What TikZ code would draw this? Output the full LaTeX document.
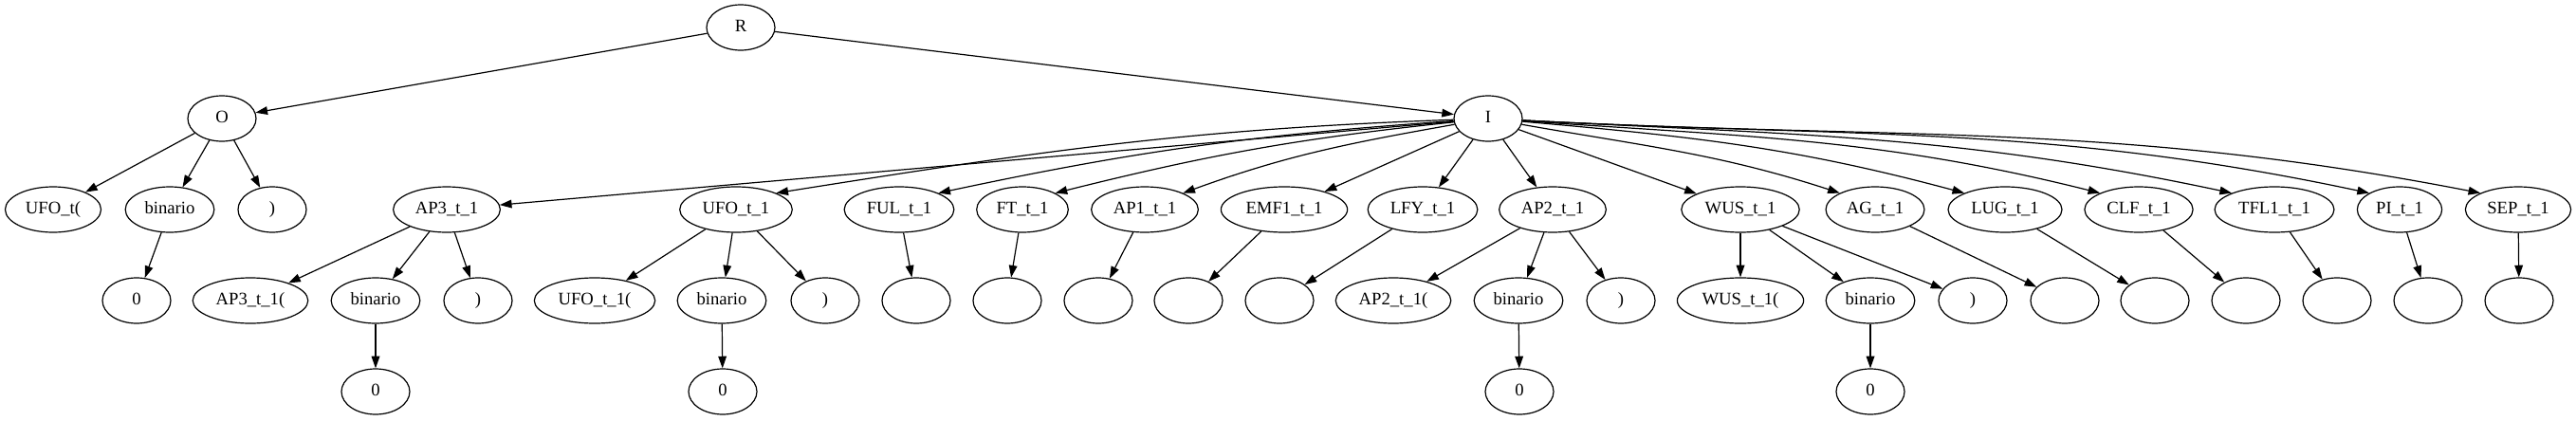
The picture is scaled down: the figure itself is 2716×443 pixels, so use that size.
\documentclass[tikz,border=0pt]{standalone}
\usepackage{fontspec}
\setmainfont{Liberation Serif}
\usetikzlibrary{arrows.meta,shapes.geometric}

\begin{document}
\begin{tikzpicture}[x=0.75pt, y=-0.75pt, >={Triangle[length=9.5pt,width=6.5pt]},
                    tn/.style={draw, ellipse, line width=0.9pt, inner xsep=5pt,
                               minimum width=54pt, minimum height=36pt,
                               text height=9.5pt, text depth=3pt,
                               font=\fontsize{14pt}{16pt}\selectfont},
                    every edge/.style={draw, line width=0.9pt}]
\useasboundingbox (0,0) rectangle (2716,443);
% root and first level
\node[tn] (R) at (781,29)  {R};
\node[tn] (O) at (234,125) {O};
\node[tn] (I) at (1569,125) {I};

% children of O
\node[tn] (ufoOpen)  at (56,221)  {UFO\_t(};
\node[tn] (ufoBin)   at (179,221) {binario};
\node[tn] (ufoClose) at (287,221) {)};
\node[tn] (ufoZero)  at (144,317) {0};

% children of I
\node[tn] (ap3) at (471,221)  {AP3\_t\_1};
\node[tn] (ufo) at (776,221)  {UFO\_t\_1};
\node[tn] (ful) at (948,221)  {FUL\_t\_1};
\node[tn] (ft)  at (1078,221) {FT\_t\_1};
\node[tn] (ap1) at (1207,221) {AP1\_t\_1};
\node[tn] (emf) at (1354,221) {EMF1\_t\_1};
\node[tn] (lfy) at (1500,221) {LFY\_t\_1};
\node[tn] (ap2) at (1637,221) {AP2\_t\_1};
\node[tn] (wus) at (1835,221) {WUS\_t\_1};
\node[tn] (ag)  at (1977,221) {AG\_t\_1};
\node[tn] (lug) at (2114,221) {LUG\_t\_1};
\node[tn] (clf) at (2255,221) {CLF\_t\_1};
\node[tn] (tfl) at (2398,221) {TFL1\_t\_1};
\node[tn] (pi)  at (2530,221) {PI\_t\_1};
\node[tn] (sep) at (2655,221) {SEP\_t\_1};

% third level
\node[tn] (ap3Open)  at (264,317) {AP3\_t\_1(};
\node[tn] (ap3Bin)   at (396,317) {binario};
\node[tn] (ap3Close) at (504,317) {)};
\node[tn] (ufo1Open)  at (627,317) {UFO\_t\_1(};
\node[tn] (ufo1Bin)   at (761,317) {binario};
\node[tn] (ufo1Close) at (870,317) {)};
\node[tn] (fulLeaf) at (966,317)  {};
\node[tn] (ftLeaf)  at (1062,317) {};
\node[tn] (ap1Leaf) at (1158,317) {};
\node[tn] (emfLeaf) at (1253,317) {};
\node[tn] (lfyLeaf) at (1349,317) {};
\node[tn] (ap2Open)  at (1469,317) {AP2\_t\_1(};
\node[tn] (ap2Bin)   at (1601,317) {binario};
\node[tn] (ap2Close) at (1709,317) {)};
\node[tn] (wusOpen)  at (1835,317) {WUS\_t\_1(};
\node[tn] (wusBin)   at (1972,317) {binario};
\node[tn] (wusClose) at (2080,317) {)};
\node[tn] (agLeaf)  at (2177,317) {};
\node[tn] (lugLeaf) at (2272,317) {};
\node[tn] (clfLeaf) at (2368,317) {};
\node[tn] (tflLeaf) at (2464,317) {};
\node[tn] (piLeaf)  at (2560,317) {};
\node[tn] (sepLeaf) at (2656,317) {};

% fourth level
\node[tn] (ap3Zero)  at (396,413)  {0};
\node[tn] (ufo1Zero) at (762,413)  {0};
\node[tn] (ap2Zero)  at (1602,413) {0};
\node[tn] (wusZero)  at (1972,413) {0};

% edges
\path[->] (R) edge (O)
          (R) edge (I)
          (O) edge (ufoOpen)
          (O) edge (ufoBin)
          (O) edge (ufoClose)
          (ufoBin) edge (ufoZero);

\path[->] (I) edge (ap3)
          (I) edge [out=182, in=9]  (ufo.north east)
          (I) edge [out=184, in=12] (ful.north east)
          (I) edge [out=186, in=14] (ft.north east)
          (I) edge [out=190, in=20] (ap1.north east)
          (I) edge (emf)
          (I) edge (lfy)
          (I) edge (ap2)
          (I) edge (wus)
          (I) edge [out=-10, in=162] (ag.north west)
          (I) edge [out=-5, in=165]  (lug.north west)
          (I) edge [out=-4, in=166]  (clf.north west)
          (I) edge [out=-3, in=168]  (tfl.north west)
          (I) edge [out=-3, in=168]  (pi.north west)
          (I) edge [out=-3, in=169]  (sep.north west);

\path[->] (ap3) edge (ap3Open)
          (ap3) edge (ap3Bin)
          (ap3) edge (ap3Close)
          (ap3Bin) edge (ap3Zero)
          (ufo) edge (ufo1Open)
          (ufo) edge (ufo1Bin)
          (ufo) edge (ufo1Close)
          (ufo1Bin) edge (ufo1Zero)
          (ful) edge (fulLeaf)
          (ft)  edge (ftLeaf)
          (ap1) edge (ap1Leaf)
          (emf) edge (emfLeaf)
          (lfy) edge (lfyLeaf)
          (ap2) edge (ap2Open)
          (ap2) edge (ap2Bin)
          (ap2) edge (ap2Close)
          (ap2Bin) edge (ap2Zero)
          (wus) edge (wusOpen)
          (wus) edge (wusBin)
          (wus) edge (wusClose)
          (wusBin) edge (wusZero)
          (ag)  edge (agLeaf)
          (lug) edge (lugLeaf)
          (clf) edge (clfLeaf)
          (tfl) edge (tflLeaf)
          (pi)  edge (piLeaf)
          (sep) edge (sepLeaf);

\end{tikzpicture}
\end{document}
